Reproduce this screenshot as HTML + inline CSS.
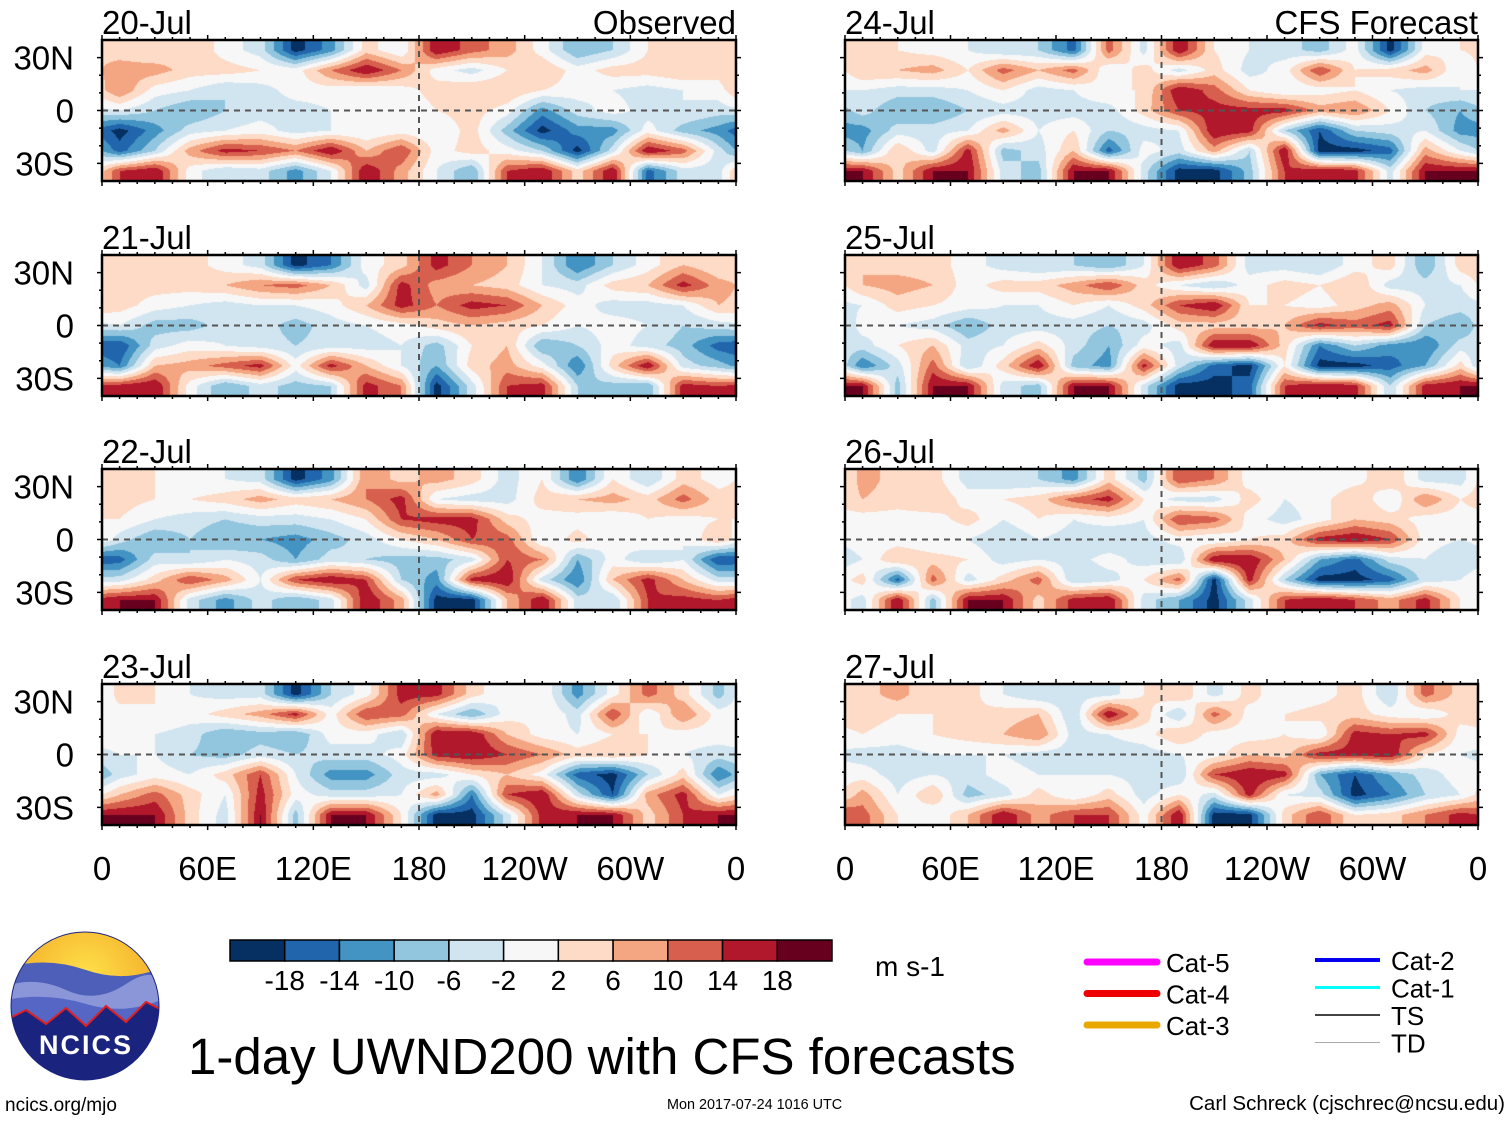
<!DOCTYPE html>
<html><head><meta charset="utf-8">
<style>
body{margin:0;background:#fff;width:1510px;height:1121px;position:relative;overflow:hidden;font-family:"Liberation Sans",sans-serif;color:#000}
.t{position:absolute;white-space:nowrap;line-height:1}
canvas{position:absolute}
</style></head><body>
<svg id="frame" width="1510" height="1121" style="position:absolute;left:0;top:0"></svg>

<div class="t" style="left:5px;top:1096px;font-size:19px">ncics.org/mjo</div>
<div class="t" style="left:667px;top:1098px;font-size:14.4px">Mon 2017-07-24 1016 UTC</div>
<div class="t" style="right:5px;top:1094px;font-size:20.5px">Carl Schreck (cjschrec@ncsu.edu)</div>
<div class="t" style="left:188px;top:1031px;font-size:51px">1-day UWND200 with CFS forecasts</div>
<div class="t" style="left:875px;top:953px;font-size:28px">m s-1</div>

<script>
const categoriesLon = ["0","60E","120E","180","120W","60W","0"];
const latLabels = ["30N","0","30S"];
const panelTitles = ["20-Jul","21-Jul","22-Jul","23-Jul","24-Jul","25-Jul","26-Jul","27-Jul"];
const cbLevels = [-18,-14,-10,-6,-2,2,6,10,14,18];
const cbColors = ["#053061","#2166ac","#4393c3","#92c5de","#d1e5f0","#f7f7f7","#fddbc7","#f4a582","#d6604d","#b2182b","#67001f"];
const legendLeft = ["Cat-5","Cat-4","Cat-3"];
const legendRight = ["Cat-2","Cat-1","TS","TD"];

const p1 = [[4,2,6,0,-4,-20,-12,4,-2,18,12,8,0,-10,-6,2,4,6],
[8,8,4,4,2,0,10,18,10,0,-4,2,6,0,4,4,6,4],
[10,0,-2,-6,-4,0,0,-2,0,4,6,6,2,0,-2,-4,-2,0],
[-2,-6,-10,-6,-4,-4,-2,-2,-2,2,4,0,-12,-4,0,-4,-2,-4],
[-20,-12,-4,-2,0,-4,-2,-2,0,-2,4,-8,-20,-12,-12,0,-8,-12],
[-16,-6,8,16,14,10,18,6,14,0,4,0,-6,-20,-4,18,12,-4],
[14,18,0,-6,-4,-12,-2,18,8,-2,-10,14,18,4,18,-16,-4,-4]];
const p2 = [[4,2,4,0,-4,-20,-14,0,4,16,10,6,-2,-14,-6,0,6,2],
[4,4,4,6,10,12,6,-4,16,8,6,4,-2,-4,4,6,16,8],
[4,0,-2,-4,-2,-2,0,6,16,10,16,14,6,0,-4,-4,-2,6],
[-2,-8,-8,-4,-4,-8,-4,-2,0,4,6,4,2,-2,0,-2,-6,-4],
[-18,-4,0,-2,-4,-6,-4,-4,-2,-8,2,6,-10,-6,0,-4,-8,-16],
[-14,6,8,12,16,0,16,6,-2,-10,4,8,0,-14,4,18,-4,-8],
[16,18,0,-10,-4,-8,-6,16,10,-20,-4,14,16,-6,-8,-10,16,14]];
const p3 = [[4,2,-2,-2,-4,-20,-12,10,4,8,4,-4,2,-14,2,-6,4,0],
[4,2,2,4,8,4,6,10,16,-2,-4,-4,4,6,8,4,12,4],
[2,-2,-4,-6,-4,-4,-2,2,14,16,16,4,0,0,-2,2,0,2],
[-4,-10,-6,-10,-10,-12,-8,-4,2,6,14,12,-2,4,-2,2,-2,6],
[-16,-4,-6,-2,-4,-10,-4,-6,-8,-8,-4,14,10,-10,0,-6,-2,-18],
[-4,4,14,8,-2,14,18,14,-6,-12,16,18,-4,-14,6,16,6,-4],
[18,18,-4,-12,-4,-10,-4,18,8,-20,-20,6,18,-4,-6,14,16,14]];
const p4 = [[4,2,-2,-4,-4,-20,-6,0,16,16,4,-2,2,-12,0,12,4,-8],
[0,2,0,4,8,16,0,14,12,-2,-10,0,2,-4,14,-2,10,0],
[0,-2,-4,-10,-8,-10,0,0,-6,18,18,6,0,-2,2,2,0,0],
[-2,-2,-6,-8,-4,-6,-4,-4,0,16,18,14,10,4,6,2,-2,-4],
[-4,0,-2,4,14,-2,-12,-12,-4,-4,2,6,0,-16,-20,-6,4,-14],
[6,12,4,-2,16,0,-4,-4,-2,8,-14,14,18,-4,-18,8,16,-2],
[18,18,4,-4,18,-8,18,18,2,-20,-20,-4,16,18,18,4,14,18]];
const p5 = [[4,2,0,-2,-6,-6,-16,12,-4,18,2,-2,-4,-8,0,-20,0,2],
[6,6,8,2,12,6,12,-2,4,-4,4,-4,0,14,2,4,8,-2],
[-2,-4,-4,-2,2,-4,-2,2,2,18,12,2,-2,0,2,-2,-4,-2],
[-4,-10,-10,-6,-4,-4,-4,-4,4,14,16,16,16,8,10,2,-6,-10],
[-12,-4,-4,-2,8,-2,2,-6,-4,-2,18,16,-6,-18,-6,-4,-2,-12],
[-10,6,-4,16,-8,-4,6,-16,0,-4,8,-6,18,-20,-20,-16,8,-2],
[18,4,18,18,-4,-8,18,18,-4,-20,-20,-8,14,18,16,-4,18,18]];
const p6 = [[6,4,4,0,-4,-6,-6,-10,-2,18,12,-4,-4,-6,0,4,-10,4],
[6,8,6,0,4,4,8,14,4,-2,-6,0,4,2,6,-4,-4,-2],
[-2,4,2,0,-2,-2,2,-2,4,14,18,2,2,0,4,8,-2,-4],
[0,-2,-4,-10,-4,-4,-4,-6,-4,4,4,4,6,16,12,16,-6,-10],
[-4,2,6,-4,-2,4,-4,-10,0,-4,18,18,4,-14,-6,-12,-14,-4],
[-14,-4,12,-6,4,18,-8,-12,16,-4,-16,-20,2,-20,-20,-16,-10,4],
[18,-8,18,18,-4,-8,18,18,-4,-20,-20,-16,14,18,16,-6,16,18]];
const p7 = [[8,4,4,-4,-6,-6,-12,4,-8,14,10,0,-2,-2,0,6,-4,-4],
[6,4,6,0,2,4,12,16,2,-4,-4,4,-2,0,6,-2,10,2],
[0,0,0,4,-2,2,-2,0,-2,14,12,0,-4,0,6,4,0,0],
[0,0,-2,-2,-6,-2,-4,-6,-4,0,-2,2,4,16,18,14,0,-2],
[-2,6,4,2,-4,-2,-4,0,-4,-6,18,18,6,-10,-16,-4,-2,-6],
[4,-16,12,-4,4,12,-6,-4,2,12,-20,16,-6,-20,-20,-16,-4,-2],
[-4,18,-8,18,18,4,16,18,-4,-10,-20,-4,14,18,14,8,16,2]];
const p8 = [[4,8,2,4,-2,-6,-4,-4,2,6,-4,4,-2,0,4,-6,12,4],
[4,2,2,2,4,6,-6,18,4,-6,12,0,2,4,4,0,-2,4],
[2,0,2,4,6,10,-4,-2,0,6,0,0,2,-2,16,14,16,0],
[-4,-4,-2,-2,-2,-4,-4,-4,-4,-2,0,6,4,16,16,18,2,-2],
[0,-4,-2,-4,0,-2,-2,-2,-4,-6,14,18,16,-10,-18,-10,-4,0],
[8,-2,6,-8,-4,4,-2,4,-4,2,-4,16,-2,-4,-20,-14,-6,-2],
[12,2,-2,6,18,8,14,14,0,18,-20,-20,4,14,2,4,10,16]];
const panelData = [p1,p2,p3,p4,p5,p6,p7,p8];

const NS="http://www.w3.org/2000/svg";
const svg=document.getElementById('frame');
const lefts=[102,845], widths=[634,633], tops=[40,255,469,684], H=141;
function xScale(lon,col){return lefts[col]+lon/360*widths[col];}
function yScale(lat,top){return top+(40-lat)/80*H;}
function hex(c){return [parseInt(c.slice(1,3),16),parseInt(c.slice(3,5),16),parseInt(c.slice(5,7),16)];}
const rgb=cbColors.map(hex);
function binIdx(v){let i=0;while(i<cbLevels.length&&v>=cbLevels[i])i++;return i;}
function mk(tag,attrs){const e=document.createElementNS(NS,tag);for(const k in attrs)e.setAttribute(k,attrs[k]);svg.appendChild(e);return e;}

panelData.forEach((grid,p)=>{
  const col=p<4?0:1, row=p%4, top=tops[row], L=lefts[col], W=widths[col];
  const cv=document.createElement('canvas');
  
  
  cv.width=W;cv.height=H;cv.style.left=L+'px';cv.style.top=top+'px';
  document.body.insertBefore(cv,svg);
  const ctx=cv.getContext('2d');const img=ctx.createImageData(W,H);
  const nr=grid.length,nc=grid[0].length;
  for(let y=0;y<H;y++){
    let gy=(y+0.5)/H*nr-0.5; gy=Math.max(0,Math.min(nr-1,gy));
    const r0=Math.floor(gy), r1=Math.min(nr-1,r0+1), sy=gy-r0;
    for(let x=0;x<W;x++){
      let gx=(x+0.5)/W*nc-0.5; if(gx<0)gx+=nc;
      const c0=Math.floor(gx)%nc, c1=(c0+1)%nc, sx=gx-Math.floor(gx);
      const a=grid[r0][c0]*(1-sx)+grid[r0][c1]*sx;
      const b=grid[r1][c0]*(1-sx)+grid[r1][c1]*sx;
      const v=a*(1-sy)+b*sy;
      const c=rgb[binIdx(v)];const k=(y*W+x)*4;
      img.data[k]=c[0];img.data[k+1]=c[1];img.data[k+2]=c[2];img.data[k+3]=255;
    }
  }
  ctx.putImageData(img,0,0);
  const eq=mk('line',{x1:L,x2:L+W,y1:yScale(0,top),y2:yScale(0,top),stroke:'#555','stroke-width':2,'stroke-dasharray':'6,5'});
  
  const dl=mk('line',{x1:xScale(180,col),x2:xScale(180,col),y1:top,y2:top+H,stroke:'#555','stroke-width':2,'stroke-dasharray':'6,5'});
  
  const fr=mk('rect',{x:L,y:top,width:W,height:H,fill:'none',stroke:'#000','stroke-width':2.5});
  
  for(let lon=0;lon<=360;lon+=10){
    const big=lon%60===0, x=xScale(lon,col);
    mk('line',{x1:x,x2:x,y1:top,y2:top-(big?5:3),stroke:'#000','stroke-width':1.5});
    mk('line',{x1:x,x2:x,y1:top+H,y2:top+H+(big?5:3),stroke:'#000','stroke-width':1.5});
  }
  for(let lat=-30;lat<=30;lat+=10){
    const y=yScale(lat,top);
    mk('line',{x1:L,x2:L-(lat%30===0?5:3),y1:y,y2:y,stroke:'#000','stroke-width':1.5});
    mk('line',{x1:L+W,x2:L+W+(lat%30===0?5:3),y1:y,y2:y,stroke:'#000','stroke-width':1.5});
  }
  const tt=mk('text',{x:L,y:top-6,'font-size':33,'font-family':'Liberation Sans'});tt.textContent=panelTitles[p];
  
  if(p===0||p===4){
    const r=mk('text',{x:L+W,y:top-6,'font-size':33,'text-anchor':'end','font-family':'Liberation Sans'});
    r.textContent=p===0?'Observed':'CFS Forecast';
    
  }
  if(col===0){
    [30,0,-30].forEach((lat,i)=>{
      const t=mk('text',{x:74,y:yScale(lat,top)+12,'font-size':33,'text-anchor':'end','font-family':'Liberation Sans'});
      t.textContent=latLabels[i];
      
    });
  }
  if(row===3){
    categoriesLon.forEach((lab,i)=>{
      const t=mk('text',{x:xScale(i*60,col),y:880,'font-size':33,'text-anchor':'middle','font-family':'Liberation Sans'});
      t.textContent=lab;
      
    });
  }
});

const cbX=230,cbW=602,cbY=940,cbH=21,bw=cbW/cbColors.length;
cbColors.forEach((c,i)=>{
  const r=mk('rect',{x:cbX+i*bw,y:cbY,width:bw,height:cbH,fill:c,stroke:'#000','stroke-width':1.5});
  
});
cbLevels.forEach((lv,i)=>{
  const t=mk('text',{x:cbX+(i+1)*bw,y:990,'font-size':28,'text-anchor':'middle','font-family':'Liberation Sans'});
  t.textContent=lv;
  
});

const lcL=['#ff00ff','#ee0000','#e8a800'], lcR=['#0000ee','#00ffff','#444','#aaa'], lwR=[4,3,2,1];
legendLeft.forEach((lab,i)=>{
  const y=962+i*31.5;
  const l=mk('line',{x1:1087,x2:1157,y1:y,y2:y,stroke:lcL[i],'stroke-width':7,'stroke-linecap':'round'});
  
  const t=mk('text',{x:1166,y:y+10,'font-size':26,'font-family':'Liberation Sans'});t.textContent=lab;
  
});
legendRight.forEach((lab,i)=>{
  const y=960+i*27.5;
  const l=mk('line',{x1:1315,x2:1380,y1:y,y2:y,stroke:lcR[i],'stroke-width':lwR[i]});
  
  const t=mk('text',{x:1391,y:y+10,'font-size':26,'font-family':'Liberation Sans'});t.textContent=lab;
  
});
</script>

<svg width="160" height="160" style="position:absolute;left:6px;top:928px">
  <defs>
    <radialGradient id="sun" cx="0.5" cy="0.3" r="0.6"><stop offset="0" stop-color="#ffe14a"/><stop offset="1" stop-color="#f0a020"/></radialGradient>
    <clipPath id="cc"><circle cx="79" cy="78" r="74"/></clipPath>
  </defs>
  <g clip-path="url(#cc)">
    <rect x="0" y="0" width="160" height="160" fill="url(#sun)"/>
    <path d="M0 40 Q40 28 80 42 T160 38 V160 H0Z" fill="#4d5fb8"/>
    <path d="M0 58 Q30 48 60 62 T120 56 T160 60 V160 H0Z" fill="#8a96d8"/>
    <path d="M0 72 Q40 64 80 76 T160 70 V160 H0Z" fill="#5566c4"/>
    <path d="M0 92 L20 82 L40 96 L60 80 L80 98 L100 78 L120 94 L140 74 L160 84 V160 H0Z" fill="#1a237e" stroke="#e02020" stroke-width="2"/>
  </g>
  <circle cx="79" cy="78" r="74" fill="none" stroke="#1a237e" stroke-width="1"/>
  <text x="80" y="126" font-size="27" font-weight="bold" fill="#fff" text-anchor="middle" font-family="Liberation Sans" letter-spacing="2">NCICS</text>
</svg>
</body></html>
